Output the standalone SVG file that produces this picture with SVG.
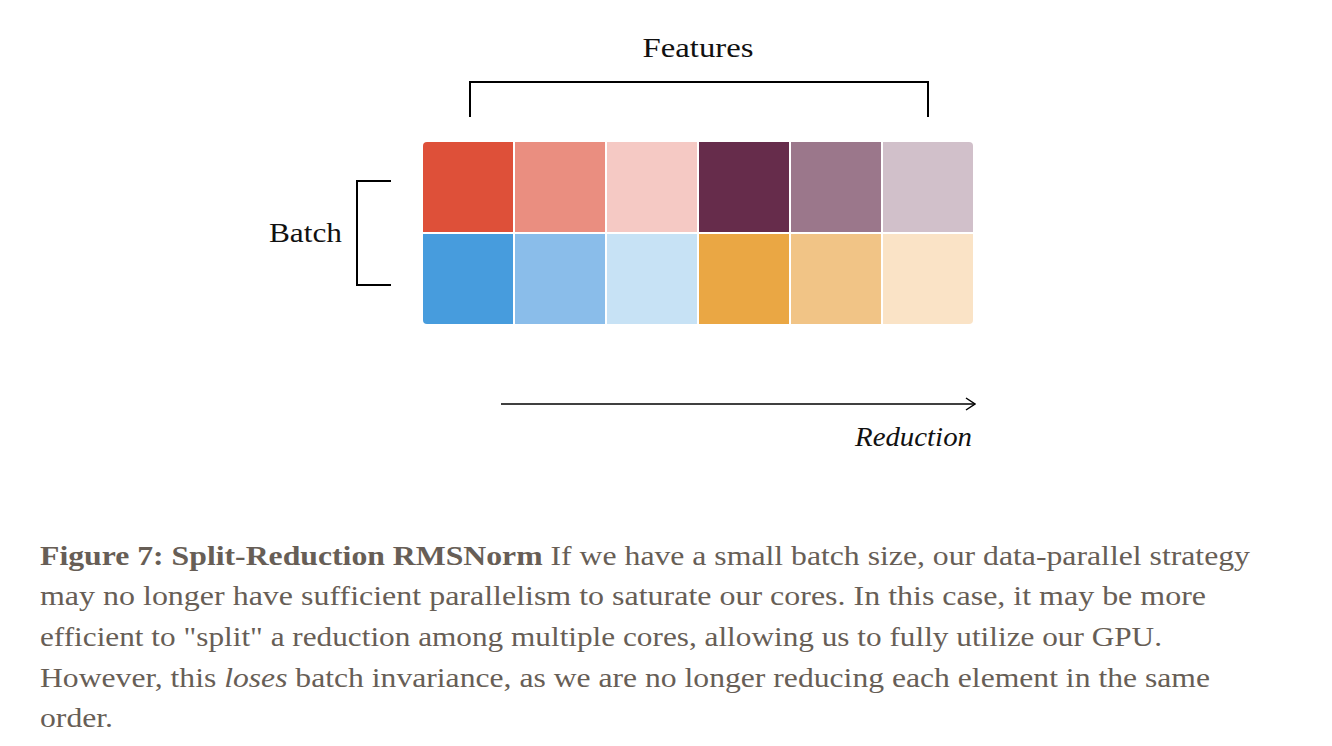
<svg xmlns="http://www.w3.org/2000/svg" width="1332" height="746" viewBox="0 0 1332 746">
<style>
.lbl{font-family:"Liberation Serif","Times New Roman",serif;font-size:28px;fill:#111}
.cap{font-family:"Liberation Serif","Times New Roman",serif;font-size:28px;fill:#675e56}
.br{fill:none;stroke:#000;stroke-width:2}
</style>
<defs>
<clipPath id="gridClip"><rect x="423" y="142" width="550" height="182" rx="4"/></clipPath>
<marker id="arr" viewBox="0 0 12 14" refX="11" refY="7" markerWidth="12" markerHeight="14" markerUnits="userSpaceOnUse" orient="auto">
<path d="M2,1 L11,7 L2,13" fill="none" stroke="#000" stroke-width="1.5"/>
</marker>
</defs>
<rect width="1332" height="746" fill="#fff"/>
<g id="features">
<text class="lbl" x="698" y="57" text-anchor="middle" textLength="111" lengthAdjust="spacingAndGlyphs">Features</text>
<path class="br" d="M470,117 V82 H928 V117"/>
</g>
<g id="batch">
<text class="lbl" x="342" y="242" text-anchor="end" textLength="73" lengthAdjust="spacingAndGlyphs">Batch</text>
<path class="br" d="M391,181 H357 V285 H391"/>
</g>
<g id="grid" clip-path="url(#gridClip)">
<rect x="423" y="142" width="90" height="90" fill="#DE5039"/>
<rect x="515" y="142" width="90" height="90" fill="#EA8E80"/>
<rect x="607" y="142" width="90" height="90" fill="#F5C9C4"/>
<rect x="699" y="142" width="90" height="90" fill="#662C4B"/>
<rect x="791" y="142" width="90" height="90" fill="#9B778B"/>
<rect x="883" y="142" width="90" height="90" fill="#D1C0CA"/>
<rect x="423" y="234" width="90" height="90" fill="#479CDD"/>
<rect x="515" y="234" width="90" height="90" fill="#8ABDEA"/>
<rect x="607" y="234" width="90" height="90" fill="#C7E2F5"/>
<rect x="699" y="234" width="90" height="90" fill="#EAA744"/>
<rect x="791" y="234" width="90" height="90" fill="#F1C486"/>
<rect x="883" y="234" width="90" height="90" fill="#FAE3C6"/>
</g>
<g id="connectors">
<line x1="501" y1="404" x2="975" y2="404" stroke="#000" stroke-width="1.5" marker-end="url(#arr)"/>
</g>
<g id="reduction">
<text class="lbl" x="972" y="446" text-anchor="end" font-style="italic" textLength="117" lengthAdjust="spacingAndGlyphs">Reduction</text>
</g>
<g id="caption">
<text class="cap" x="40" y="565" textLength="1210" lengthAdjust="spacingAndGlyphs"><tspan font-weight="bold">Figure 7: Split-Reduction RMSNorm</tspan> If we have a small batch size, our data-parallel strategy</text>
<text class="cap" x="40" y="605" textLength="1166" lengthAdjust="spacingAndGlyphs">may no longer have sufficient parallelism to saturate our cores. In this case, it may be more</text>
<text class="cap" x="40" y="646" textLength="1122" lengthAdjust="spacingAndGlyphs">efficient to "split" a reduction among multiple cores, allowing us to fully utilize our GPU.</text>
<text class="cap" x="40" y="687" textLength="1170" lengthAdjust="spacingAndGlyphs">However, this <tspan font-style="italic">loses</tspan> batch invariance, as we are no longer reducing each element in the same</text>
<text class="cap" x="40" y="727" textLength="73" lengthAdjust="spacingAndGlyphs">order.</text>
</g>
</svg>
